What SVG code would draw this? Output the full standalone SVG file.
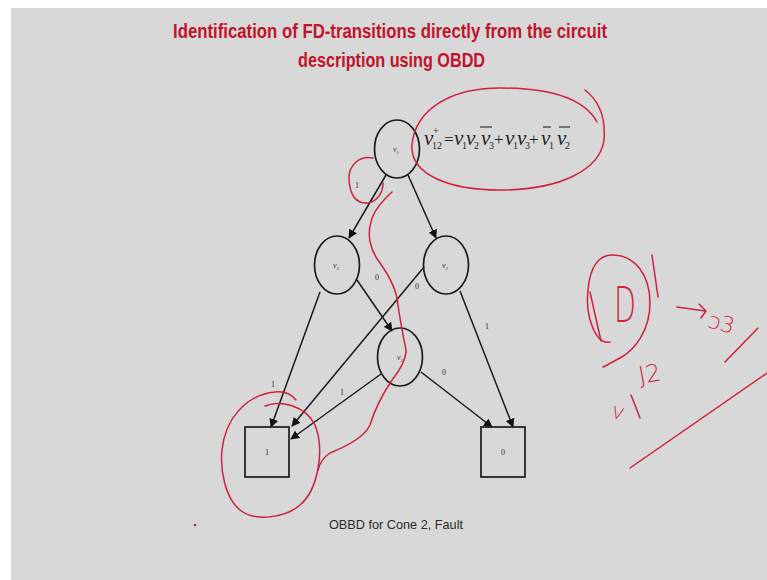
<svg xmlns="http://www.w3.org/2000/svg" width="767" height="580" viewBox="0 0 767 580">
<defs>
<marker id="ah" viewBox="0 0 10 10" refX="9" refY="5" markerWidth="9" markerHeight="9" markerUnits="userSpaceOnUse" orient="auto">
<path d="M0,0 L10,5 L0,10 z" fill="#111"/>
</marker>
<style>
.node{fill:none;stroke:#1a1a1a;stroke-width:1.7}
.edge{stroke:#1a1a1a;stroke-width:1.5;fill:none;marker-end:url(#ah)}
.nl{font-family:"Liberation Serif",serif;font-style:italic;font-size:8px;fill:#333;text-anchor:middle}
.el{font-family:"Liberation Serif",serif;font-size:8px;fill:#333;text-anchor:middle}
.title{font-family:"Liberation Sans",sans-serif;font-weight:bold;font-size:20px;fill:#c0142a}
.f{font-family:"Liberation Serif",serif;font-style:italic;font-size:21px;fill:#222}
.fs{font-family:"Liberation Serif",serif;font-size:10px;fill:#222}
.fo{font-family:"Liberation Serif",serif;font-size:17px;fill:#222}
.ink{fill:none;stroke:#d21f3c;stroke-width:1.5;stroke-linecap:round;stroke-linejoin:round}
.hw{font-family:"DejaVu Sans",sans-serif;font-weight:200;fill:#d21f3c}
</style>
</defs>
<rect x="0" y="0" width="767" height="580" fill="#ffffff"/>
<rect x="11" y="8" width="756" height="572" fill="#d8d8d8"/>

<text class="title" x="173" y="38" textLength="434" lengthAdjust="spacingAndGlyphs">Identification of FD-transitions directly from the circuit</text>
<text class="title" x="298" y="67" textLength="187" lengthAdjust="spacingAndGlyphs">description using OBDD</text>

<g id="connectors">
<line class="edge" x1="386" y1="175" x2="349" y2="238"/>
<line class="edge" x1="408" y1="175" x2="436" y2="238"/>
<line class="edge" x1="320" y1="292" x2="271" y2="427"/>
<line class="edge" x1="357" y1="280" x2="392" y2="331"/>
<line class="edge" x1="424" y1="267" x2="292" y2="426"/>
<line class="edge" x1="460" y1="291" x2="513" y2="427"/>
<line class="edge" x1="381" y1="374" x2="291" y2="439"/>
<line class="edge" x1="421" y1="372" x2="492" y2="427"/>
<text class="el" x="357" y="188">1</text>
<text class="el" x="377" y="280">0</text>
<text class="el" x="417" y="289">0</text>
<text class="el" x="487" y="329">1</text>
<text class="el" x="273" y="387">1</text>
<text class="el" x="342" y="395">1</text>
<text class="el" x="444" y="375">0</text>
</g>

<g id="n_v1">
<ellipse class="node" cx="397" cy="149" rx="22.5" ry="29"/>
<text class="nl" x="396" y="152">v<tspan font-size="5" dy="1.5">1</tspan></text>
</g>
<g id="n_v2a">
<ellipse class="node" cx="337" cy="265" rx="22.5" ry="29"/>
<text class="nl" x="336" y="268">v<tspan font-size="5" dy="1.5">2</tspan></text>
</g>
<g id="n_v2b">
<ellipse class="node" cx="446" cy="265" rx="22.5" ry="29"/>
<text class="nl" x="445" y="268">v<tspan font-size="5" dy="1.5">2</tspan></text>
</g>
<g id="n_v3">
<ellipse class="node" cx="400" cy="357" rx="22.5" ry="29"/>
<text class="nl" x="400" y="360">v<tspan font-size="5" dy="1.5">3</tspan></text>
</g>
<g id="t_one">
<rect class="node" x="245" y="427" width="44" height="50"/>
<text class="el" x="267" y="455">1</text>
</g>
<g id="t_zero">
<rect class="node" x="481" y="427" width="44" height="50"/>
<text class="el" x="503" y="455">0</text>
</g>

<g id="formula">
<text class="f" x="424" y="145">v</text>
<text class="fs" x="432" y="149">12</text>
<text class="fs" x="433" y="134" font-size="7">+</text>
<text class="fo" x="444" y="145">=</text>
<text class="f" x="454" y="145">v</text><text class="fs" x="462" y="149">1</text>
<text class="f" x="466" y="145">v</text><text class="fs" x="474" y="149">2</text>
<text class="f" x="481" y="145">v</text><text class="fs" x="489" y="149">3</text>
<text class="fo" x="494" y="145">+</text>
<text class="f" x="505" y="145">v</text><text class="fs" x="513" y="149">1</text>
<text class="f" x="517" y="145">v</text><text class="fs" x="525" y="149">3</text>
<text class="fo" x="529" y="145">+</text>
<text class="f" x="541" y="145">v</text><text class="fs" x="549" y="149">1</text>
<text class="f" x="557" y="145">v</text><text class="fs" x="565" y="149">2</text>
<line x1="480" y1="127" x2="492" y2="127" stroke="#222" stroke-width="1.1"/>
<line x1="543" y1="127" x2="551" y2="127" stroke="#222" stroke-width="1.1"/>
<line x1="559" y1="127" x2="570" y2="127" stroke="#222" stroke-width="1.1"/>
</g>

<text x="329" y="529" font-family="Liberation Sans, sans-serif" font-size="13" fill="#2a2a2a" textLength="134" lengthAdjust="spacingAndGlyphs">OBBD for Cone 2, Fault</text>

<g id="annotations">
<path class="ink" d="M597 122 C585 100 555 88 500 88 C450 88 415 110 412 145 C410 175 450 190 500 190 C560 190 600 170 604 140 C606 115 598 100 585 90"/>
<path class="ink" d="M373 158 C360 155 348 165 349 180 C350 195 356 204 368 203 C378 201 383 192 383 183"/>
<path class="ink" d="M392 192 C380 203 373 212 371 222 C367 235 370 250 380 263 C390 277 397 290 398 305 C400 320 403 335 406 350 C406 360 400 370 392 380 C384 392 376 405 370 425 C365 436 350 445 330 453 C324 457 320 462 318 470"/>
<path class="ink" d="M265 406 C280 400 305 405 315 425 C325 450 318 490 300 505 C285 518 255 522 240 510 C225 498 220 470 222 450 C225 420 245 395 275 392 C285 391 292 395 296 400"/>
<circle cx="195" cy="525" r="1.3" fill="#d21f3c"/>
<path class="ink" d="M610 342 C595 345 585 315 588 290 C590 265 600 255 612 255 C635 255 650 275 650 303 C650 330 635 350 620 358 C612 362 606 366 603 367"/>
<path class="ink" d="M590 292 L601 341"/>
<text class="hw" x="614" y="322" font-size="50" textLength="22" lengthAdjust="spacingAndGlyphs">D</text>
<path class="ink" d="M652 255 L658 297"/>
<path class="ink" d="M677 307 L705 311 M699 304 L706 311 L701 318"/>
<text class="hw" x="707" y="327" font-size="22" transform="rotate(15 707 327)">ɔ3</text>
<path class="ink" d="M758 328 L725 362"/>
<text class="hw" x="640" y="384" font-size="24" transform="rotate(-10 640 384)">J2</text>
<text class="hw" x="610" y="417" font-size="22" transform="rotate(15 610 417)">v</text>
<path class="ink" d="M631 395 L640 418"/>
<path class="ink" d="M767 373 L630 468"/>
</g>
</svg>
